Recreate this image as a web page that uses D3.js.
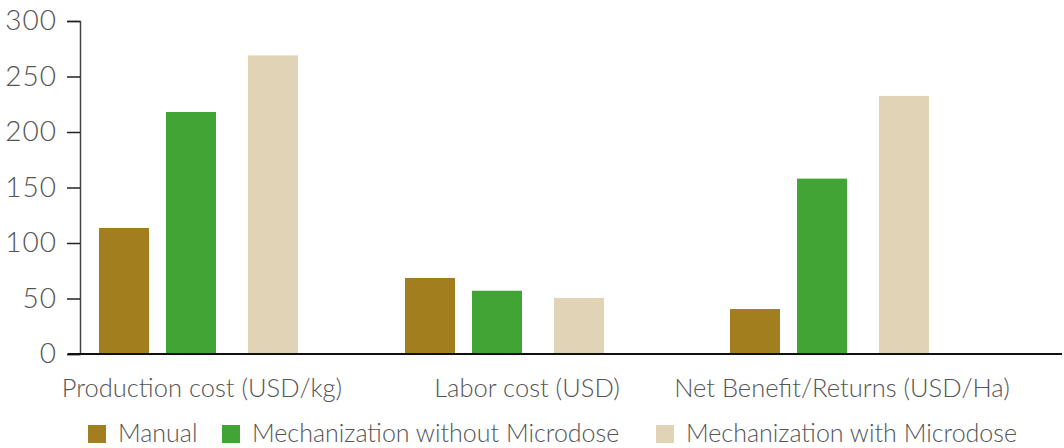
<!DOCTYPE html>
<html>
<head>
<meta charset="utf-8">
<script src="https://cdn.jsdelivr.net/npm/d3@7"></script>
<style>
  body { margin: 0; background: #fff; }
  text { font-family: Lato, "Open Sans", sans-serif; font-weight: 300; }
</style>
</head>
<body>
<div id="chart"></div>
<script>
// ===== data =====
var categories = ["Production cost (USD/kg)", "Labor cost (USD)", "Net Benefit/Returns (USD/Ha)"];
var seriesNames = ["Manual", "Mechanization without Microdose", "Mechanization with Microdose"];
var manual = [113.5, 68.5, 40.5];
var mechNoMicro = [218, 57, 158];
var mechMicro = [269, 50.5, 232.5];
var yTicks = [0, 50, 100, 150, 200, 250, 300];

var colors = ["#a27e1e", "#41a535", "#e1d4b6"];
var seriesValues = [manual, mechNoMicro, mechMicro];

var W = 1064, H = 448;
var svg = d3.select("#chart")
    .append("svg")
    .attr("width", W)
    .attr("height", H)

var y = d3.scaleLinear().domain([0, 300]).range([354, 21])
// group starts are not evenly spaced in the original
var x0 = d3.scaleOrdinal().domain(categories).range([99, 405, 730])
var x1 = d3.scaleOrdinal().domain(seriesNames).range([0, 67, 149])
var labelX = d3.scaleOrdinal().domain(categories).range([202, 527, 842])
var barW = 50

// y axis
var yAxis = svg.append("g")
    .attr("transform", "translate(80,0)")
    .call(d3.axisLeft(y).tickValues(yTicks).tickSize(13).tickPadding(10))
yAxis.select(".domain").attr("stroke", "#444").attr("stroke-width", 1.5)
yAxis.selectAll(".tick line").attr("stroke", "#222").attr("stroke-width", 1.5)
yAxis.selectAll(".tick text")
    .attr("font-size", "28px")
    .attr("letter-spacing", "1px")
    .attr("fill", "#555")
    .attr("font-family", "Lato, sans-serif")

// bars
categories.forEach(function(cat, ci){
    seriesNames.forEach(function(s, si){
        var v = seriesValues[si][ci]
        svg.append("rect")
            .attr("x", x0(cat) + x1(s))
            .attr("y", y(v))
            .attr("width", barW)
            .attr("height", y(0) - y(v))
            .attr("fill", colors[si])
    })
})

// baseline
svg.append("line")
    .attr("x1", 68).attr("x2", 1062)
    .attr("y1", y(0)).attr("y2", y(0))
    .attr("stroke", "#111")
    .attr("stroke-width", 2)

// category labels
svg.selectAll(".cat")
    .data(categories)
    .enter().append("text")
    .attr("x", function(d){ return labelX(d) })
    .attr("y", 397)
    .attr("text-anchor", "middle")
    .attr("font-size", "25.5px")
    .attr("fill", "#555")
    .text(function(d){ return d })

// legend
var legendX = [88, 222, 656]
var legend = svg.selectAll(".leg")
    .data(seriesNames)
    .enter().append("g")
    .attr("transform", function(d, i){ return "translate(" + legendX[i] + ",425)" })
legend.append("rect")
    .attr("width", 18).attr("height", 18)
    .attr("fill", function(d, i){ return colors[i] })
legend.append("text")
    .attr("x", 30)
    .attr("y", 17)
    .attr("font-size", "25px")
    .attr("fill", "#555")
    .text(function(d){ return d })
</script>
</body>
</html>
